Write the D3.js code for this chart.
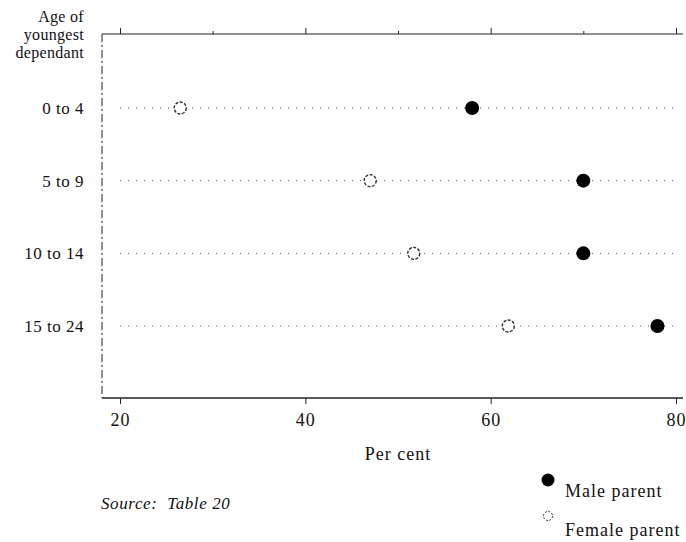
<!DOCTYPE html>
<html><head><meta charset="utf-8">
<script src="https://cdn.jsdelivr.net/npm/d3@7"></script>
<style>body{margin:0;background:#fff}svg{display:block}text{font-family:"Liberation Serif","Times New Roman",serif;fill:#111}</style>
</head><body><svg id="c" width="686" height="542"></svg>
<script>
const categories = ["0 to 4", "5 to 9", "10 to 14", "15 to 24"];
const maleValues = [58.0, 70.0, 70.0, 78.0];
const femaleValues = [26.5, 47.0, 51.7, 61.9];
const tickValues = [20, 40, 60, 80];
const minorTicks = [30, 50, 70];
const yTitle = ["Age of", "youngest", "dependant"];

const svg = d3.select("#c");
const x = d3.scaleLinear().domain([20, 80]).range([120, 676]);
const y = d3.scalePoint().domain(categories).range([108, 326]);
const x0 = x.invert(102), x1 = x.invert(683);
const topY = 34, botY = 398;

// guide dotted lines
svg.append("g").selectAll("line").data(categories).join("line")
  .attr("x1", x(20)).attr("x2", x(80)).attr("y1", d => y(d)).attr("y2", d => y(d))
  .attr("stroke", "#555").attr("stroke-width", 1).attr("stroke-dasharray", "1,7");

// top axis
const topAxis = d3.axisTop(x).tickValues(tickValues.concat(minorTicks)).tickSize(6).tickFormat("");
const gt = svg.append("g").attr("transform", `translate(0,${topY})`).call(topAxis);
gt.select(".domain").remove();
gt.selectAll(".tick line").attr("stroke", "#222").attr("y2", d => minorTicks.includes(d) ? -3 : -6);
svg.append("line").attr("x1", x(x0)).attr("x2", x(x1)).attr("y1", topY).attr("y2", topY).attr("stroke", "#222").attr("stroke-width", 1.2);

// bottom axis
const botAxis = d3.axisBottom(x).tickValues(tickValues).tickSize(6).tickPadding(9);
const gb = svg.append("g").attr("transform", `translate(0,${botY})`).call(botAxis);
gb.select(".domain").remove();
gb.selectAll(".tick line").attr("stroke", "#222");
gb.selectAll(".tick text").attr("font-size", 18).attr("letter-spacing", 1).style("font-family", "'Liberation Serif',serif").attr("fill", "#111");
svg.append("line").attr("x1", x(x0)).attr("x2", x(x1)).attr("y1", botY).attr("y2", botY).attr("stroke", "#222").attr("stroke-width", 1.5);

// left axis (dashed)
svg.append("line").attr("x1", x(x0)).attr("x2", x(x0)).attr("y1", topY).attr("y2", botY)
  .attr("stroke", "#222").attr("stroke-width", 1).attr("stroke-dasharray", "8,3,2,3");

// row labels
svg.append("g").selectAll("text").data(categories).join("text")
  .attr("x", 84).attr("y", d => y(d) + 6).attr("text-anchor", "end").attr("font-size", 17).attr("letter-spacing", 0.5).text(d => d);

// y title
svg.append("g").selectAll("text").data(yTitle).join("text")
  .attr("x", 84).attr("y", (d, i) => 22 + i * 18).attr("text-anchor", "end").attr("font-size", 16).attr("letter-spacing", 0.3).text(d => d);

// points
svg.append("g").selectAll("circle").data(femaleValues).join("circle")
  .attr("cx", d => x(d)).attr("cy", (d, i) => y(categories[i])).attr("r", 6)
  .attr("fill", "#fff").attr("stroke", "#222").attr("stroke-width", 1.3).attr("stroke-dasharray", "3,1.5");
svg.append("g").selectAll("circle").data(maleValues).join("circle")
  .attr("cx", d => x(d)).attr("cy", (d, i) => y(categories[i])).attr("r", 7).attr("fill", "#000");

// x title
svg.append("text").attr("x", 398).attr("y", 460).attr("text-anchor", "middle").attr("font-size", 18).attr("letter-spacing", 1).text("Per cent");

// source
svg.append("text").attr("x", 101).attr("y", 509).attr("font-size", 17).attr("font-style", "italic")
  .attr("letter-spacing", 0.6).style("white-space", "pre").text("Source:  Table 20");

// legend
svg.append("circle").attr("cx", 548).attr("cy", 480).attr("r", 6.5).attr("fill", "#000");
svg.append("text").attr("x", 565).attr("y", 497).attr("font-size", 18).attr("letter-spacing", 1).text("Male parent");
svg.append("circle").attr("cx", 548).attr("cy", 516).attr("r", 4.5).attr("fill", "#fff").attr("stroke", "#333").attr("stroke-width", 1).attr("stroke-dasharray", "2,1.5");
svg.append("text").attr("x", 565).attr("y", 536).attr("font-size", 18).attr("letter-spacing", 1).text("Female parent");
</script></body></html>
